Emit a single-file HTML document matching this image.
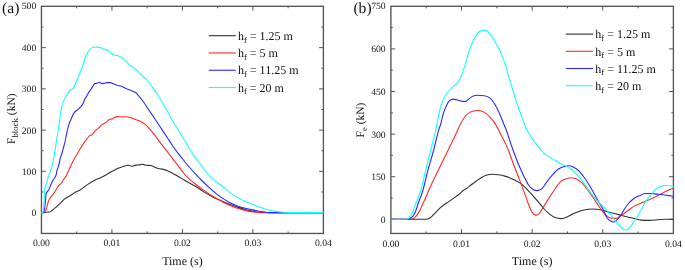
<!DOCTYPE html>
<html><head><meta charset="utf-8"><style>
html,body{margin:0;padding:0;background:#fff;}
body{width:685px;height:270px;overflow:hidden;}
svg{display:block;will-change:transform;}
text{font-family:"Liberation Serif",serif;fill:#111;text-rendering:geometricPrecision;}
.tl{font-size:9.7px;}
.al{font-size:12px;}
.lg{font-size:12px;}
.sub{font-size:8.5px;}
.sub2{font-size:8.8px;}
.yl{font-size:11.5px;}
.pl{font-size:15.6px;}
</style></head><body>
<svg width="685" height="270" viewBox="0 0 685 270">
<rect width="685" height="270" fill="#fff"/>
<rect x="41.45" y="6.3" width="281.95" height="227.15" fill="none" stroke="#545454" stroke-width="1.35"/>
<path d="M111.94,233.45 v-4.3 M111.94,6.3 v4.3 M182.43,233.45 v-4.3 M182.43,6.3 v4.3 M252.91,233.45 v-4.3 M252.91,6.3 v4.3 M76.69,233.45 v-2 M76.69,6.3 v2 M147.18,233.45 v-2 M147.18,6.3 v2 M217.67,233.45 v-2 M217.67,6.3 v2 M288.16,233.45 v-2 M288.16,6.3 v2 M41.45,212.60 h4.3 M323.4,212.60 h-4.3 M41.45,171.36 h4.3 M323.4,171.36 h-4.3 M41.45,130.12 h4.3 M323.4,130.12 h-4.3 M41.45,88.88 h4.3 M323.4,88.88 h-4.3 M41.45,47.64 h4.3 M323.4,47.64 h-4.3 M41.45,191.98 h2 M323.4,191.98 h-2 M41.45,150.74 h2 M323.4,150.74 h-2 M41.45,109.50 h2 M323.4,109.50 h-2 M41.45,68.26 h2 M323.4,68.26 h-2 M41.45,27.02 h2 M323.4,27.02 h-2" fill="none" stroke="#545454" stroke-width="1.0"/>
<path d="M41.50,212.60 C44.20,212.50 46.90,212.40 49.60,212.00 C50.47,211.87 51.33,211.02 52.20,210.40 C53.40,209.54 54.60,208.36 55.80,207.30 C57.27,206.01 58.73,204.68 60.20,203.30 C61.70,201.89 63.20,200.09 64.70,198.90 C66.17,197.74 67.63,197.10 69.10,196.20 C70.30,195.47 71.50,194.74 72.70,194.00 C73.87,193.28 75.03,192.42 76.20,191.80 C77.23,191.25 78.27,190.94 79.30,190.40 C82.00,188.98 84.70,186.36 87.40,184.60 C89.87,182.99 92.33,181.43 94.80,180.20 C96.77,179.22 98.73,178.63 100.70,177.70 C102.43,176.88 104.17,176.01 105.90,175.00 C107.27,174.20 108.63,173.18 110.00,172.40 C111.47,171.56 112.93,170.94 114.40,170.20 C115.63,169.57 116.87,168.85 118.10,168.30 C119.37,167.74 120.63,167.32 121.90,166.90 C122.87,166.58 123.83,166.30 124.80,166.00 C125.67,165.73 126.53,165.20 127.40,165.20 C128.03,165.20 128.67,165.34 129.30,165.50 C130.03,165.69 130.77,166.30 131.50,166.30 C132.23,166.30 132.97,165.88 133.70,165.70 C134.60,165.47 135.50,165.23 136.40,165.10 C137.33,164.97 138.27,165.03 139.20,164.90 C140.10,164.77 141.00,164.30 141.90,164.30 C142.63,164.30 143.37,164.43 144.10,164.60 C144.83,164.77 145.57,165.23 146.30,165.30 C147.77,165.43 149.23,165.37 150.70,165.50 C151.93,165.61 153.17,166.40 154.40,166.90 C155.40,167.31 156.40,167.88 157.40,168.20 C158.27,168.48 159.13,168.62 160.00,168.80 C161.47,169.11 162.93,169.20 164.40,169.60 C167.37,170.41 170.33,172.16 173.30,173.70 C175.87,175.03 178.43,176.60 181.00,178.10 C183.50,179.56 186.00,181.19 188.50,182.60 C190.83,183.91 193.17,184.92 195.50,186.30 C198.30,187.96 201.10,190.16 203.90,191.90 C206.87,193.74 209.83,195.47 212.80,197.00 C216.73,199.03 220.67,200.59 224.60,202.20 C228.57,203.82 232.53,205.33 236.50,206.70 C240.43,208.06 244.37,209.48 248.30,210.40 C252.77,211.44 257.23,211.98 261.70,212.30 C264.47,212.50 267.23,212.60 270.00,212.60 C287.83,212.60 305.67,212.60 323.50,212.60" fill="none" stroke="#303030" stroke-width="1.1" stroke-linejoin="round" stroke-linecap="round"/>
<path d="M41.50,212.60 C41.80,212.65 42.10,212.70 42.40,212.70 C43.47,212.70 44.53,212.10 45.60,210.90 C46.03,210.41 46.47,208.38 46.90,206.90 C47.33,205.42 47.77,203.31 48.20,202.00 C48.80,200.18 49.40,199.44 50.00,198.40 C51.03,196.60 52.07,195.85 53.10,194.40 C54.07,193.04 55.03,191.53 56.00,190.00 C56.93,188.52 57.87,186.51 58.80,185.40 C59.57,184.48 60.33,184.43 61.10,183.50 C61.87,182.57 62.63,180.93 63.40,179.80 C64.33,178.42 65.27,177.94 66.20,176.10 C66.83,174.85 67.47,172.91 68.10,171.50 C68.70,170.16 69.30,169.08 69.90,167.80 C70.40,166.73 70.90,165.57 71.40,164.50 C72.23,162.72 73.07,160.94 73.90,159.40 C74.83,157.67 75.77,156.36 76.70,154.80 C77.60,153.29 78.50,151.71 79.40,150.20 C80.33,148.64 81.27,147.14 82.20,145.60 C82.97,144.34 83.73,142.83 84.50,141.80 C85.10,140.99 85.70,140.50 86.30,139.80 C87.40,138.52 88.50,136.37 89.60,135.60 C90.37,135.07 91.13,135.31 91.90,134.80 C93.13,133.97 94.37,131.53 95.60,130.40 C96.30,129.76 97.00,129.38 97.70,128.80 C99.17,127.59 100.63,125.74 102.10,124.60 C103.60,123.43 105.10,123.04 106.60,121.90 C107.63,121.11 108.67,119.36 109.70,119.20 C110.57,119.07 111.43,119.13 112.30,119.00 C112.90,118.91 113.50,117.64 114.10,117.40 C115.43,116.87 116.77,116.60 118.10,116.60 C119.30,116.60 120.50,117.00 121.70,117.00 C122.87,117.00 124.03,116.70 125.20,116.70 C126.10,116.70 127.00,116.84 127.90,117.00 C129.37,117.25 130.83,117.72 132.30,118.20 C133.80,118.69 135.30,119.29 136.80,119.90 C138.27,120.49 139.73,121.00 141.20,121.80 C142.63,122.58 144.07,123.37 145.50,124.60 C146.87,125.77 148.23,127.36 149.60,128.90 C151.60,131.15 153.60,133.72 155.60,136.30 C157.80,139.13 160.00,142.32 162.20,145.20 C164.13,147.73 166.07,150.09 168.00,152.60 C169.60,154.67 171.20,156.81 172.80,158.90 C175.47,162.39 178.13,165.94 180.80,169.30 C183.00,172.07 185.20,175.11 187.40,177.40 C189.73,179.83 192.07,181.43 194.40,183.30 C197.57,185.84 200.73,188.17 203.90,190.40 C206.87,192.49 209.83,194.45 212.80,196.30 C216.73,198.75 220.67,201.04 224.60,203.00 C228.57,204.98 232.53,206.75 236.50,208.10 C240.43,209.44 244.37,210.36 248.30,211.10 C252.77,211.94 257.23,212.60 261.70,212.60 C282.30,212.60 302.90,212.60 323.50,212.60" fill="none" stroke="#ff2828" stroke-width="1.1" stroke-linejoin="round" stroke-linecap="round"/>
<path d="M41.50,212.60 C42.10,212.53 42.70,212.47 43.30,212.20 C43.77,211.99 44.23,210.73 44.70,207.80 C45.00,205.91 45.30,202.15 45.60,198.90 C45.73,197.46 45.87,195.05 46.00,194.40 C46.30,192.93 46.60,192.81 46.90,192.20 C47.47,191.04 48.03,191.01 48.60,190.00 C49.37,188.64 50.13,186.07 50.90,184.40 C51.70,182.66 52.50,181.25 53.30,179.80 C54.20,178.17 55.10,178.27 56.00,175.20 C56.33,174.06 56.67,171.87 57.00,170.60 C57.30,169.46 57.60,168.73 57.90,167.80 C58.20,166.87 58.50,166.13 58.80,165.00 C59.20,163.49 59.60,161.02 60.00,159.40 C60.50,157.38 61.00,156.14 61.50,154.50 C61.93,153.07 62.37,151.72 62.80,150.20 C63.27,148.57 63.73,146.85 64.20,145.00 C64.60,143.42 65.00,141.86 65.40,140.00 C65.83,137.99 66.27,135.34 66.70,133.30 C67.17,131.11 67.63,129.20 68.10,127.40 C68.60,125.47 69.10,123.55 69.60,122.20 C70.10,120.85 70.60,120.40 71.10,119.30 C71.60,118.20 72.10,116.67 72.60,115.60 C73.33,114.02 74.07,112.85 74.80,111.90 C75.80,110.61 76.80,110.49 77.80,109.60 C78.77,108.74 79.73,107.83 80.70,106.70 C81.47,105.80 82.23,105.34 83.00,103.70 C83.47,102.70 83.93,101.04 84.40,100.00 C85.03,98.58 85.67,97.91 86.30,96.80 C86.87,95.80 87.43,94.66 88.00,93.70 C88.90,92.18 89.80,91.11 90.70,89.70 C91.43,88.55 92.17,87.20 92.90,86.10 C93.50,85.20 94.10,83.71 94.70,83.60 C95.43,83.47 96.17,83.53 96.90,83.40 C97.63,83.27 98.37,82.30 99.10,82.30 C99.53,82.30 99.97,82.40 100.40,82.60 C100.87,82.82 101.33,83.70 101.80,83.70 C102.53,83.70 103.27,83.55 104.00,83.40 C104.90,83.21 105.80,82.60 106.70,82.60 C107.87,82.60 109.03,82.60 110.20,82.60 C111.40,82.60 112.60,83.43 113.80,83.90 C114.97,84.36 116.13,85.03 117.30,85.40 C118.50,85.78 119.70,85.70 120.90,86.10 C122.37,86.59 123.83,87.67 125.30,88.30 C126.80,88.94 128.30,89.31 129.80,89.90 C130.97,90.36 132.13,90.84 133.30,91.40 C134.20,91.83 135.10,92.05 136.00,92.80 C136.90,93.55 137.80,94.83 138.70,95.90 C140.37,97.88 142.03,99.91 143.70,102.20 C145.67,104.90 147.63,108.16 149.60,111.10 C151.60,114.09 153.60,117.01 155.60,120.00 C157.57,122.94 159.53,125.93 161.50,128.90 C163.47,131.87 165.43,134.83 167.40,137.80 C169.37,140.77 171.33,143.88 173.30,146.70 C175.10,149.29 176.90,151.74 178.70,154.10 C180.27,156.15 181.83,158.07 183.40,160.00 C185.77,162.92 188.13,165.79 190.50,168.50 C192.53,170.83 194.57,173.03 196.60,175.20 C198.13,176.84 199.67,178.45 201.20,180.00 C204.07,182.89 206.93,185.54 209.80,188.10 C212.77,190.75 215.73,193.38 218.70,195.60 C222.17,198.19 225.63,200.34 229.10,202.20 C232.53,204.04 235.97,205.51 239.40,206.70 C243.37,208.08 247.33,208.73 251.30,209.60 C255.23,210.46 259.17,211.37 263.10,211.90 C265.40,212.21 267.70,212.60 270.00,212.60 C287.83,212.60 305.67,212.60 323.50,212.60" fill="none" stroke="#2828ff" stroke-width="1.1" stroke-linejoin="round" stroke-linecap="round"/>
<path d="M41.50,212.60 C41.97,212.53 42.43,212.47 42.90,212.20 C43.20,212.03 43.50,210.13 43.80,206.00 C43.93,204.16 44.07,201.15 44.20,198.90 C44.43,194.96 44.67,189.45 44.90,188.10 C45.53,184.43 46.17,184.84 46.80,182.60 C47.27,180.95 47.73,178.55 48.20,177.00 C48.67,175.45 49.13,174.58 49.60,173.30 C50.03,172.11 50.47,170.93 50.90,169.60 C51.37,168.17 51.83,166.92 52.30,165.00 C52.90,162.53 53.50,159.03 54.10,155.70 C54.60,152.93 55.10,150.32 55.60,146.90 C55.93,144.62 56.27,141.44 56.60,139.40 C56.90,137.56 57.20,136.70 57.50,135.00 C58.00,132.17 58.50,128.07 59.00,124.60 C59.57,120.67 60.13,116.13 60.70,112.80 C61.20,109.86 61.70,107.42 62.20,105.40 C62.93,102.44 63.67,101.11 64.40,99.40 C65.17,97.61 65.93,96.33 66.70,95.00 C67.67,93.32 68.63,91.69 69.60,90.60 C70.83,89.21 72.07,89.83 73.30,88.30 C74.30,87.06 75.30,83.99 76.30,81.70 C77.53,78.87 78.77,75.92 80.00,72.80 C81.13,69.93 82.27,67.17 83.40,63.80 C84.03,61.92 84.67,59.57 85.30,57.80 C86.07,55.66 86.83,53.78 87.60,52.40 C88.33,51.08 89.07,50.36 89.80,49.60 C90.97,48.39 92.13,47.43 93.30,47.30 C94.50,47.17 95.70,47.10 96.90,47.10 C98.23,47.10 99.57,47.27 100.90,47.60 C101.63,47.78 102.37,49.01 103.10,49.20 C104.13,49.47 105.17,49.33 106.20,49.60 C107.23,49.87 108.27,50.87 109.30,51.60 C110.63,52.54 111.97,54.10 113.30,54.70 C114.63,55.30 115.97,55.13 117.30,55.60 C118.80,56.12 120.30,56.85 121.80,57.80 C122.97,58.54 124.13,59.32 125.30,60.40 C126.50,61.51 127.70,63.30 128.90,64.40 C130.37,65.75 131.83,66.30 133.30,67.40 C134.80,68.53 136.30,69.71 137.80,71.10 C139.27,72.45 140.73,74.13 142.20,75.60 C143.70,77.10 145.20,78.35 146.70,80.00 C148.67,82.16 150.63,84.68 152.60,87.40 C154.57,90.12 156.53,93.22 158.50,96.30 C160.47,99.38 162.43,102.48 164.40,105.90 C165.90,108.51 167.40,111.35 168.90,114.10 C169.97,116.06 171.03,118.10 172.10,120.00 C174.50,124.28 176.90,128.00 179.30,131.90 C181.77,135.91 184.23,139.42 186.70,143.70 C187.87,145.72 189.03,148.05 190.20,150.00 C192.27,153.45 194.33,156.08 196.40,158.90 C197.90,160.95 199.40,162.80 200.90,164.80 C202.90,167.47 204.90,170.60 206.90,173.00 C209.37,175.97 211.83,178.27 214.30,180.40 C216.77,182.53 219.23,183.92 221.70,185.80 C225.13,188.41 228.57,191.74 232.00,194.10 C235.47,196.48 238.93,198.24 242.40,200.00 C246.37,202.01 250.33,203.68 254.30,205.20 C256.77,206.15 259.23,206.96 261.70,207.80 C263.90,208.55 266.10,209.41 268.30,210.00 C271.27,210.79 274.23,211.20 277.20,211.60 C279.13,211.86 281.07,212.04 283.00,212.20 C285.33,212.39 287.67,212.60 290.00,212.60 C301.17,212.60 312.33,212.60 323.50,212.60" fill="none" stroke="#10ffff" stroke-width="1.1" stroke-linejoin="round" stroke-linecap="round"/>
<text x="41.45" y="245.9" text-anchor="middle" class="tl">0.00</text>
<text x="111.94" y="245.9" text-anchor="middle" class="tl">0.01</text>
<text x="182.43" y="245.9" text-anchor="middle" class="tl">0.02</text>
<text x="252.91" y="245.9" text-anchor="middle" class="tl">0.03</text>
<text x="323.40" y="245.9" text-anchor="middle" class="tl">0.04</text>
<text x="36.25" y="216.10" text-anchor="end" class="tl">0</text>
<text x="36.25" y="174.86" text-anchor="end" class="tl">100</text>
<text x="36.25" y="133.62" text-anchor="end" class="tl">200</text>
<text x="36.25" y="92.38" text-anchor="end" class="tl">300</text>
<text x="36.25" y="51.14" text-anchor="end" class="tl">400</text>
<text x="36.25" y="9.20" text-anchor="end" class="tl">500</text>
<text x="182.42" y="264.6" text-anchor="middle" class="al">Time (s)</text>
<path d="M208.8,35.70 H235.8" stroke="#303030" stroke-width="1.1"/>
<text x="238.0" y="39.90" class="lg">h<tspan class="sub" dy="2.6">f</tspan><tspan dy="-2.6"> = 1.25 m</tspan></text>
<path d="M208.8,52.97 H235.8" stroke="#ff2828" stroke-width="1.1"/>
<text x="238.0" y="57.17" class="lg">h<tspan class="sub" dy="2.6">f</tspan><tspan dy="-2.6"> = 5 m</tspan></text>
<path d="M208.8,70.24 H235.8" stroke="#2828ff" stroke-width="1.1"/>
<text x="238.0" y="74.44" class="lg">h<tspan class="sub" dy="2.6">f</tspan><tspan dy="-2.6"> = 11.25 m</tspan></text>
<path d="M208.8,87.51 H235.8" stroke="#10ffff" stroke-width="1.1"/>
<text x="238.0" y="91.71" class="lg">h<tspan class="sub" dy="2.6">f</tspan><tspan dy="-2.6"> = 20 m</tspan></text>
<text x="2.1" y="12.9" class="pl">(a)</text>
<text transform="translate(14.8,144) rotate(-90)" class="yl">F<tspan class="sub2" dy="3">block</tspan><tspan dy="-3"> (kN)</tspan></text>
<rect x="390.9" y="6.3" width="282.50" height="227.15" fill="none" stroke="#545454" stroke-width="1.35"/>
<path d="M461.52,233.45 v-4.3 M461.52,6.3 v4.3 M532.15,233.45 v-4.3 M532.15,6.3 v4.3 M602.77,233.45 v-4.3 M602.77,6.3 v4.3 M426.21,233.45 v-2 M426.21,6.3 v2 M496.84,233.45 v-2 M496.84,6.3 v2 M567.46,233.45 v-2 M567.46,6.3 v2 M638.09,233.45 v-2 M638.09,6.3 v2 M390.9,219.30 h4.3 M673.4,219.30 h-4.3 M390.9,176.70 h4.3 M673.4,176.70 h-4.3 M390.9,134.10 h4.3 M673.4,134.10 h-4.3 M390.9,91.50 h4.3 M673.4,91.50 h-4.3 M390.9,48.90 h4.3 M673.4,48.90 h-4.3 M390.9,198.00 h2 M673.4,198.00 h-2 M390.9,155.40 h2 M673.4,155.40 h-2 M390.9,112.80 h2 M673.4,112.80 h-2 M390.9,70.20 h2 M673.4,70.20 h-2 M390.9,27.60 h2 M673.4,27.60 h-2" fill="none" stroke="#545454" stroke-width="1.0"/>
<path d="M391.00,219.30 C402.33,219.30 413.67,219.30 425.00,219.30 C425.73,219.30 426.47,219.17 427.20,219.00 C428.13,218.78 429.07,218.59 430.00,218.00 C431.00,217.36 432.00,216.17 433.00,215.20 C434.00,214.23 435.00,213.22 436.00,212.20 C437.47,210.71 438.93,208.93 440.40,207.60 C442.37,205.81 444.33,204.71 446.30,203.30 C448.77,201.53 451.23,199.89 453.70,198.10 C455.67,196.67 457.63,195.27 459.60,193.70 C461.07,192.53 462.53,190.97 464.00,190.00 C464.70,189.54 465.40,189.24 466.10,188.80 C467.73,187.77 469.37,186.25 471.00,185.00 C472.77,183.65 474.53,182.26 476.30,181.00 C478.10,179.72 479.90,178.43 481.70,177.40 C483.17,176.56 484.63,175.63 486.10,175.20 C488.17,174.60 490.23,174.30 492.30,174.30 C494.40,174.30 496.50,174.50 498.60,174.80 C500.67,175.10 502.73,175.52 504.80,176.10 C506.57,176.59 508.33,177.16 510.10,177.90 C511.73,178.58 513.37,179.47 515.00,180.30 C516.03,180.82 517.07,181.29 518.10,181.90 C520.10,183.08 522.10,184.47 524.10,186.30 C525.57,187.64 527.03,189.33 528.50,190.90 C530.97,193.54 533.43,196.25 535.90,199.10 C538.37,201.95 540.83,205.33 543.30,208.00 C545.30,210.16 547.30,212.29 549.30,213.90 C551.27,215.48 553.23,216.93 555.20,217.60 C557.17,218.27 559.13,218.60 561.10,218.60 C562.70,218.60 564.30,217.94 565.90,217.40 C568.87,216.40 571.83,214.23 574.80,213.00 C577.77,211.77 580.73,210.67 583.70,210.00 C586.67,209.33 589.63,209.00 592.60,209.00 C595.57,209.00 598.53,209.37 601.50,210.00 C603.97,210.53 606.43,211.52 608.90,212.20 C611.87,213.01 614.83,213.65 617.80,214.40 C620.77,215.15 623.73,215.97 626.70,216.70 C628.83,217.22 630.97,217.70 633.10,218.20 C635.83,218.84 638.57,219.90 641.30,220.10 C644.00,220.30 646.70,220.40 649.40,220.40 C652.13,220.40 654.87,220.00 657.60,219.80 C660.30,219.60 663.00,219.20 665.70,219.20 C668.27,219.20 670.83,219.20 673.40,219.20" fill="none" stroke="#303030" stroke-width="1.1" stroke-linejoin="round" stroke-linecap="round"/>
<path d="M391.00,219.30 C397.00,219.30 403.00,219.30 409.00,219.30 C409.83,219.30 410.67,219.23 411.50,219.10 C412.20,218.99 412.90,218.90 413.60,218.50 C414.10,218.21 414.60,217.75 415.10,217.30 C415.53,216.91 415.97,216.54 416.40,216.00 C416.93,215.33 417.47,214.36 418.00,213.50 C418.57,212.59 419.13,211.75 419.70,210.70 C420.70,208.84 421.70,206.17 422.70,204.00 C423.57,202.12 424.43,200.42 425.30,198.50 C426.50,195.84 427.70,192.75 428.90,190.00 C432.17,182.51 435.43,176.07 438.70,169.30 C441.87,162.74 445.03,156.53 448.20,150.00 C450.57,145.12 452.93,140.19 455.30,135.20 C457.13,131.33 458.97,126.90 460.80,123.50 C462.33,120.65 463.87,117.90 465.40,116.00 C467.30,113.65 469.20,112.32 471.10,111.70 C473.57,110.90 476.03,110.50 478.50,110.50 C480.47,110.50 482.43,111.24 484.40,112.40 C486.40,113.58 488.40,115.42 490.40,117.60 C491.87,119.20 493.33,120.86 494.80,123.10 C496.77,126.10 498.73,130.50 500.70,134.30 C502.70,138.16 504.70,141.52 506.70,146.10 C509.03,151.45 511.37,158.72 513.70,164.80 C515.43,169.32 517.17,173.57 518.90,178.10 C520.87,183.24 522.83,188.47 524.80,193.90 C526.03,197.30 527.27,201.22 528.50,204.30 C529.73,207.38 530.97,210.55 532.20,212.40 C533.43,214.25 534.67,215.40 535.90,215.40 C537.13,215.40 538.37,214.47 539.60,213.10 C540.83,211.73 542.07,209.17 543.30,207.20 C545.30,204.01 547.30,200.71 549.30,197.60 C551.27,194.54 553.23,191.53 555.20,188.70 C556.67,186.59 558.13,184.13 559.60,182.60 C561.20,180.93 562.80,180.19 564.40,179.40 C566.40,178.41 568.40,177.70 570.40,177.70 C572.37,177.70 574.33,178.13 576.30,179.00 C578.27,179.87 580.23,181.17 582.20,183.10 C584.17,185.03 586.13,187.99 588.10,190.60 C590.10,193.25 592.10,196.01 594.10,198.90 C596.07,201.74 598.03,205.08 600.00,207.80 C601.97,210.52 603.93,213.46 605.90,215.20 C607.63,216.73 609.37,217.87 611.10,218.10 C612.60,218.30 614.10,218.40 615.60,218.40 C617.30,218.40 619.00,216.92 620.70,215.90 C622.70,214.70 624.70,212.98 626.70,211.50 C628.90,209.88 631.10,207.92 633.30,206.60 C635.67,205.18 638.03,204.42 640.40,203.40 C642.50,202.50 644.60,201.69 646.70,200.80 C648.77,199.92 650.83,199.08 652.90,198.10 C654.67,197.26 656.43,196.33 658.20,195.40 C659.57,194.68 660.93,193.91 662.30,193.20 C664.40,192.11 666.50,191.02 668.60,190.10 C670.20,189.40 671.80,188.80 673.40,188.20" fill="none" stroke="#ff2828" stroke-width="1.1" stroke-linejoin="round" stroke-linecap="round"/>
<path d="M391.00,219.30 C396.17,219.30 401.33,219.30 406.50,219.30 C407.33,219.30 408.17,219.20 409.00,219.00 C409.77,218.82 410.53,218.19 411.30,217.60 C411.90,217.14 412.50,216.83 413.10,216.00 C413.60,215.31 414.10,214.30 414.60,213.30 C415.00,212.50 415.40,211.69 415.80,210.70 C416.53,208.88 417.27,206.13 418.00,204.00 C418.53,202.45 419.07,200.92 419.60,199.50 C420.23,197.82 420.87,196.62 421.50,194.80 C422.00,193.36 422.50,191.70 423.00,190.00 C424.60,184.57 426.20,176.77 427.80,170.70 C429.77,163.24 431.73,157.39 433.70,150.00 C435.43,143.48 437.17,134.85 438.90,129.30 C439.57,127.17 440.23,125.82 440.90,123.50 C441.70,120.72 442.50,116.07 443.30,113.50 C443.73,112.11 444.17,111.12 444.60,110.00 C445.23,108.36 445.87,106.72 446.50,105.40 C447.43,103.45 448.37,101.81 449.30,100.90 C450.53,99.70 451.77,99.10 453.00,99.10 C454.23,99.10 455.47,99.50 456.70,99.80 C457.93,100.10 459.17,100.62 460.40,100.90 C461.63,101.18 462.87,101.50 464.10,101.50 C465.03,101.50 465.97,101.23 466.90,100.70 C467.80,100.19 468.70,99.08 469.60,98.40 C470.83,97.47 472.07,96.62 473.30,96.10 C474.53,95.58 475.77,95.30 477.00,95.30 C479.47,95.30 481.93,95.43 484.40,95.70 C486.40,95.92 488.40,96.57 490.40,98.30 C491.87,99.57 493.33,101.87 494.80,104.30 C496.30,106.78 497.80,109.80 499.30,113.10 C500.53,115.82 501.77,118.97 503.00,122.00 C504.23,125.03 505.47,127.91 506.70,131.30 C508.17,135.33 509.63,140.35 511.10,144.60 C511.73,146.43 512.37,148.24 513.00,150.00 C514.70,154.72 516.40,159.16 518.10,163.30 C520.10,168.17 522.10,172.63 524.10,176.70 C525.57,179.68 527.03,182.89 528.50,185.00 C530.00,187.16 531.50,188.58 533.00,189.40 C534.47,190.20 535.93,190.60 537.40,190.60 C538.90,190.60 540.40,189.97 541.90,188.70 C543.37,187.46 544.83,184.55 546.30,182.60 C548.27,179.98 550.23,177.42 552.20,175.20 C554.17,172.98 556.13,170.75 558.10,169.30 C560.10,167.83 562.10,167.08 564.10,166.50 C565.70,166.04 567.30,165.80 568.90,165.80 C570.37,165.80 571.83,166.23 573.30,166.90 C575.30,167.81 577.30,169.31 579.30,171.30 C581.27,173.26 583.23,175.87 585.20,178.70 C587.17,181.53 589.13,184.93 591.10,188.30 C593.07,191.67 595.03,195.43 597.00,198.90 C599.00,202.43 601.00,205.37 603.00,209.30 C604.37,211.98 605.73,216.02 607.10,218.00 C608.30,219.74 609.50,220.43 610.70,221.10 C611.57,221.59 612.43,222.00 613.30,222.00 C614.20,222.00 615.10,221.35 616.00,220.70 C617.47,219.64 618.93,217.85 620.40,215.80 C621.73,213.94 623.07,211.23 624.40,209.20 C625.90,206.92 627.40,204.71 628.90,203.00 C630.37,201.33 631.83,200.11 633.30,199.00 C634.80,197.87 636.30,197.01 637.80,196.30 C638.97,195.75 640.13,195.48 641.30,195.00 C642.40,194.54 643.50,193.50 644.60,193.50 C646.67,193.50 648.73,193.50 650.80,193.50 C652.87,193.50 654.93,193.90 657.00,194.10 C659.07,194.30 661.13,194.45 663.20,194.70 C665.27,194.95 667.33,195.26 669.40,195.60 C670.73,195.82 672.07,196.06 673.40,196.30" fill="none" stroke="#2828ff" stroke-width="1.1" stroke-linejoin="round" stroke-linecap="round"/>
<path d="M391.00,219.30 C395.67,219.30 400.33,219.30 405.00,219.30 C405.83,219.30 406.67,219.20 407.50,219.00 C408.10,218.86 408.70,218.35 409.30,217.70 C409.70,217.26 410.10,216.76 410.50,216.10 C411.00,215.27 411.50,214.04 412.00,213.00 C412.43,212.10 412.87,211.28 413.30,210.30 C414.10,208.48 414.90,206.10 415.70,204.00 C416.33,202.34 416.97,200.67 417.60,199.00 C418.17,197.50 418.73,196.11 419.30,194.50 C419.80,193.08 420.30,191.62 420.80,190.00 C422.40,184.81 424.00,177.16 425.60,170.70 C427.30,163.83 429.00,156.83 430.70,150.00 C432.43,143.03 434.17,137.16 435.90,129.30 C437.20,123.41 438.50,115.08 439.80,110.00 C440.97,105.44 442.13,102.39 443.30,99.60 C444.80,96.01 446.30,94.25 447.80,92.20 C449.77,89.51 451.73,88.27 453.70,86.30 C455.17,84.83 456.63,83.97 458.10,81.90 C458.97,80.68 459.83,79.45 460.70,77.60 C461.93,74.97 463.17,71.09 464.40,67.20 C465.40,64.05 466.40,60.17 467.40,56.90 C468.60,52.97 469.80,48.91 471.00,45.80 C471.90,43.47 472.80,41.60 473.70,39.80 C474.73,37.73 475.77,35.82 476.80,34.40 C477.83,32.98 478.87,31.95 479.90,31.30 C481.07,30.57 482.23,30.20 483.40,30.20 C484.30,30.20 485.20,30.33 486.10,30.60 C487.30,30.96 488.50,32.27 489.70,33.60 C490.87,34.89 492.03,36.58 493.20,38.40 C494.40,40.27 495.60,42.47 496.80,44.70 C498.10,47.11 499.40,49.43 500.70,52.40 C502.20,55.83 503.70,59.51 505.20,64.30 C506.17,67.39 507.13,71.32 508.10,74.60 C509.10,78.00 510.10,80.99 511.10,84.30 C512.33,88.38 513.57,92.95 514.80,96.90 C516.03,100.85 517.27,104.48 518.50,108.00 C519.67,111.33 520.83,114.38 522.00,117.50 C523.33,121.06 524.67,125.06 526.00,128.00 C527.47,131.24 528.93,133.32 530.40,135.70 C532.87,139.70 535.33,143.00 537.80,146.10 C540.27,149.20 542.73,152.12 545.20,154.30 C548.03,156.80 550.87,157.86 553.70,159.60 C556.17,161.12 558.63,162.89 561.10,164.10 C562.70,164.89 564.30,165.29 565.90,166.10 C567.90,167.11 569.90,168.18 571.90,169.80 C573.87,171.39 575.83,173.48 577.80,175.70 C579.77,177.92 581.73,180.50 583.70,183.10 C585.67,185.70 587.63,188.69 589.60,191.30 C591.60,193.96 593.60,196.60 595.60,198.90 C597.57,201.16 599.53,203.02 601.50,205.00 C603.37,206.88 605.23,208.37 607.10,210.50 C608.60,212.21 610.10,214.33 611.60,216.20 C613.07,218.03 614.53,219.82 616.00,221.60 C617.47,223.38 618.93,225.55 620.40,226.90 C622.20,228.56 624.00,230.00 625.80,230.00 C626.97,230.00 628.13,229.29 629.30,228.20 C630.50,227.08 631.70,225.03 632.90,223.30 C634.07,221.62 635.23,219.90 636.40,218.00 C637.90,215.56 639.40,212.64 640.90,210.00 C642.23,207.65 643.57,205.17 644.90,203.00 C646.07,201.10 647.23,199.21 648.40,197.70 C649.50,196.27 650.60,195.31 651.70,194.10 C653.17,192.49 654.63,190.44 656.10,189.20 C657.60,187.93 659.10,187.22 660.60,186.60 C662.07,186.00 663.53,185.50 665.00,185.50 C666.47,185.50 667.93,185.57 669.40,185.70 C670.73,185.82 672.07,186.21 673.40,186.60" fill="none" stroke="#10ffff" stroke-width="1.1" stroke-linejoin="round" stroke-linecap="round"/>
<text x="390.90" y="246.5" text-anchor="middle" class="tl">0.00</text>
<text x="461.52" y="246.5" text-anchor="middle" class="tl">0.01</text>
<text x="532.15" y="246.5" text-anchor="middle" class="tl">0.02</text>
<text x="602.77" y="246.5" text-anchor="middle" class="tl">0.03</text>
<text x="673.40" y="246.5" text-anchor="middle" class="tl">0.04</text>
<text x="385.70" y="222.80" text-anchor="end" class="tl">0</text>
<text x="385.70" y="180.20" text-anchor="end" class="tl">150</text>
<text x="385.70" y="137.60" text-anchor="end" class="tl">300</text>
<text x="385.70" y="95.00" text-anchor="end" class="tl">450</text>
<text x="385.70" y="52.40" text-anchor="end" class="tl">600</text>
<text x="385.70" y="9.10" text-anchor="end" class="tl">750</text>
<text x="532.15" y="264.9" text-anchor="middle" class="al">Time (s)</text>
<path d="M565.8,34.10 H593.0" stroke="#303030" stroke-width="1.1"/>
<text x="595.3" y="38.30" class="lg">h<tspan class="sub" dy="2.6">f</tspan><tspan dy="-2.6"> = 1.25 m</tspan></text>
<path d="M565.8,51.30 H593.0" stroke="#ff2828" stroke-width="1.1"/>
<text x="595.3" y="55.50" class="lg">h<tspan class="sub" dy="2.6">f</tspan><tspan dy="-2.6"> = 5 m</tspan></text>
<path d="M565.8,68.50 H593.0" stroke="#2828ff" stroke-width="1.1"/>
<text x="595.3" y="72.70" class="lg">h<tspan class="sub" dy="2.6">f</tspan><tspan dy="-2.6"> = 11.25 m</tspan></text>
<path d="M565.8,85.70 H593.0" stroke="#10ffff" stroke-width="1.1"/>
<text x="595.3" y="89.90" class="lg">h<tspan class="sub" dy="2.6">f</tspan><tspan dy="-2.6"> = 20 m</tspan></text>
<text x="353.4" y="12.9" class="pl">(b)</text>
<text transform="translate(364.2,137.5) rotate(-90)" class="yl">F<tspan class="sub2" dy="3">e</tspan><tspan dy="-3"> (kN)</tspan></text>
</svg>
</body></html>
